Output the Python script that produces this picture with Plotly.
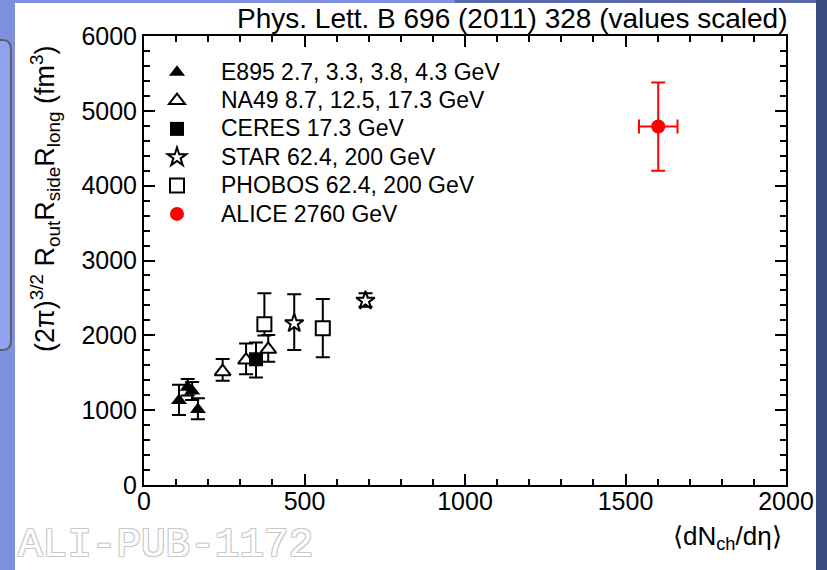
import plotly.graph_objects as go

# HBT volume vs charged-particle multiplicity, several experiments
e895_x = [109, 136, 150, 168]
e895_y = [1130, 1305, 1255, 1010]
e895_up = [210, 110, 120, 150]
e895_dn = [195, 110, 120, 130]

na49_x = [245, 318, 387]
na49_y = [1514, 1670, 1813]
na49_up = [170, 220, 190]
na49_dn = [120, 190, 165]

ceres_x = [349]
ceres_y = [1680]
ceres_up = [225]
ceres_dn = [245]

star_x = [468, 690]
star_y = [2161, 2463]
star_up = [387, 100]
star_dn = [357, 80]

phobos_x = [375, 557]
phobos_y = [2147, 2094]
phobos_up = [415, 392]
phobos_dn = [150, 388]

alice_x = [1602]
alice_y = [4790]
alice_xerr = [60]
alice_yerr = [590]

labels = [
    "E895 2.7, 3.3, 3.8, 4.3 GeV",
    "NA49 8.7, 12.5, 17.3 GeV",
    "CERES 17.3 GeV",
    "STAR 62.4, 200 GeV",
    "PHOBOS 62.4, 200 GeV",
    "ALICE 2760 GeV",
]

W, H = 827, 570
L, R, T, B = 144, 786, 36, 485  # plot frame in pixels


def px(x):
    return (x - L) / (R - L)


def py(y):
    return (B - y) / (B - T)


FONT = "Liberation Sans, Arial, Helvetica, sans-serif"

fig = go.Figure()


def legend_label(text):
    # larger glyphs than the legend's base size keep the rows tightly packed
    return f'<span style="font-size:23px">{text}</span>'


def add_series(name, x, y, up, dn, symbol, fill, line_w=2):
    fig.add_trace(go.Scatter(
        x=x, y=y, mode="markers", name=legend_label(name),
        marker=dict(symbol=symbol, size=14, color=fill,
                    line=dict(color="black", width=line_w)),
        error_y=dict(type="data", symmetric=False, array=up, arrayminus=dn,
                     color="black", thickness=2, width=7),
    ))


add_series(labels[0], e895_x, e895_y, e895_up, e895_dn, "triangle-up", "black", 0)
add_series(labels[1], na49_x, na49_y, na49_up, na49_dn, "triangle-up", "white")
add_series(labels[2], ceres_x, ceres_y, ceres_up, ceres_dn, "square", "black", 0)
add_series(labels[3], star_x, star_y, star_up, star_dn, "star", "white")
add_series(labels[4], phobos_x, phobos_y, phobos_up, phobos_dn, "square", "white")

fig.add_trace(go.Scatter(
    x=alice_x, y=alice_y, mode="markers", name=legend_label(labels[5]),
    marker=dict(symbol="circle", size=14, color="#ff0000"),
    error_y=dict(type="data", array=alice_yerr, color="#ff0000", thickness=2, width=7),
    error_x=dict(type="data", array=alice_xerr, color="#ff0000", thickness=2, width=7),
))

# page decoration: blue slide border around the white canvas
shapes = [
    dict(type="rect", xref="paper", yref="paper", x0=px(0), x1=px(W), y0=py(H), y1=py(0),
         fillcolor="#7f90dd", line_width=0, layer="below"),
    dict(type="rect", xref="paper", yref="paper", x0=px(W * 0.55), x1=px(W), y0=py(3), y1=py(0),
         fillcolor="#5868a8", line_width=0, layer="below"),
    dict(type="rect", xref="paper", yref="paper", x0=px(816), x1=px(W), y0=py(H), y1=py(0),
         fillcolor="#3c4b7e", line_width=0, layer="below"),
    dict(type="path", xref="paper", yref="paper", layer="below",
         path=(f"M {px(-5)},{py(40)} L {px(3)},{py(40)} Q {px(11)},{py(40)} {px(11)},{py(50)} "
               f"L {px(11)},{py(340)} Q {px(11)},{py(350)} {px(3)},{py(350)} L {px(-5)},{py(350)} Z"),
         fillcolor="#8ea2f0", line=dict(color="#5a5f70", width=2)),
    dict(type="rect", xref="paper", yref="paper", x0=px(15), x1=px(816), y0=py(H), y1=py(3),
         fillcolor="white", line_width=0, layer="below"),
]

annotations = [
    dict(text="Phys. Lett. B 696 (2011) 328 (values scaled)", xref="paper", yref="paper",
         x=px(789), y=py(18), xanchor="right", yanchor="middle", showarrow=False,
         font=dict(family=FONT, size=28, color="black")),
    dict(text="(2π)<sup>3/2</sup> R<sub>out</sub>R<sub>side</sub>R<sub>long</sub> (fm<sup>3</sup>)",
         xref="paper", yref="paper", x=px(45), y=py(199), xanchor="center", yanchor="middle",
         textangle=-90, showarrow=False, font=dict(family=FONT, size=27, color="black")),
    dict(text="⟨dN<sub>ch</sub>/dη⟩", xref="paper", yref="paper",
         x=px(784), y=py(537), xanchor="right", yanchor="middle", showarrow=False,
         font=dict(family=FONT, size=26, color="black")),
    dict(text="ALI-PUB-1172", xref="paper", yref="paper",
         x=px(16), y=py(545), xanchor="left", yanchor="middle", showarrow=False,
         font=dict(family="Liberation Mono, DejaVu Sans Mono, monospace", size=41, color="white",
                   shadow="1px 1px 0 #c8c8c8, -1px -1px 0 #c8c8c8, 1px -1px 0 #c8c8c8, -1px 1px 0 #c8c8c8")),
]

axis_common = dict(
    showline=True, linecolor="black", linewidth=2, mirror="ticks",
    ticks="inside", ticklen=11, tickwidth=1.5, tickcolor="black",
    showgrid=False, zeroline=False,
    tickfont=dict(family=FONT, size=25, color="black"),
)

fig.update_layout(
    width=W, height=H,
    margin=dict(l=L, r=W - R, t=T, b=H - B),
    paper_bgcolor="#7f90dd", plot_bgcolor="white",
    xaxis=dict(range=[0, 2000], dtick=500, tick0=0, ticklabelstandoff=-7,
               minor=dict(ticks="inside", ticklen=6, dtick=100, tickcolor="black", tickwidth=1.5),
               **axis_common),
    yaxis=dict(range=[0, 6000], dtick=1000, tick0=0,
               minor=dict(ticks="inside", ticklen=6, dtick=200, tickcolor="black", tickwidth=1.5),
               **axis_common),
    showlegend=True,
    legend=dict(x=px(133), y=py(53), xanchor="left", yanchor="top",
                bgcolor="rgba(0,0,0,0)", itemwidth=78,
                font=dict(family=FONT, size=19.5, color="black")),
    shapes=shapes,
    annotations=annotations,
)

fig.write_html("out.html")
